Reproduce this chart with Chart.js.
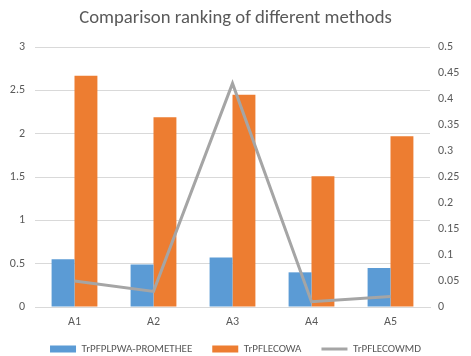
<!DOCTYPE html>
<html>
<head>
<meta charset="utf-8">
<script src="https://cdn.jsdelivr.net/npm/chart.js@4/dist/chart.umd.min.js"></script>
<style>
  html, body { margin: 0; padding: 0; background: #fff; }
  #wrap { width: 471px; height: 356px; }
</style>
</head>
<body>
<div id="wrap"><canvas id="chart"></canvas></div>
<script>
// ===== DATA =====
const categories = ["A1", "A2", "A3", "A4", "A5"];
const prometheeValues = [0.55, 0.49, 0.57, 0.40, 0.45];   // TrPFPLPWA-PROMETHEE (left axis)
const lecowaValues    = [2.67, 2.19, 2.45, 1.51, 1.97];   // TrPFLECOWA (left axis)
const lecowmdValues   = [0.05, 0.03, 0.43, 0.01, 0.02];   // TrPFLECOWMD (right axis)

const FONT = "Carlito, Lato, 'Open Sans', sans-serif";
const TEXT_GRAY = "#595959";
const GRID_GRAY = "#d9d9d9";

const fmt = v => Number(v.toFixed(2)).toString();

// legend needs wide horizontal gaps but sits close under the x labels,
// so nudge it up a bit after layout
const legendNudge = {
  id: "legendNudge",
  afterLayout(chart) {
    const lg = chart.legend;
    if (!lg) return;
    lg.top -= 7.5;
    lg.bottom -= 7.5;
  }
};

const ctx = document.getElementById("chart").getContext("2d");

new Chart(ctx, {
  type: "bar",
  data: {
    labels: categories,
    datasets: [
      {
        label: "TrPFPLPWA-PROMETHEE",
        data: prometheeValues,
        backgroundColor: "#5B9BD5",
        yAxisID: "y",
        order: 2,
        pointStyle: "rect"
      },
      {
        label: "TrPFLECOWA",
        data: lecowaValues,
        backgroundColor: "#ED7D31",
        yAxisID: "y",
        order: 2,
        pointStyle: "rect"
      },
      {
        type: "line",
        label: "TrPFLECOWMD",
        data: lecowmdValues,
        borderColor: "#A5A5A5",
        backgroundColor: "#A5A5A5",
        borderWidth: 3,
        pointRadius: 0,
        tension: 0,
        yAxisID: "y1",
        order: 1,
        pointStyle: "line"
      }
    ]
  },
  plugins: [legendNudge],
  options: {
    responsive: true,
    maintainAspectRatio: false,
    animation: false,
    // negative bottom padding pulls the legend row down near the edge
    layout: { padding: { left: 0, right: 0, top: 0, bottom: -16 } },
    datasets: {
      bar: { barPercentage: 1, categoryPercentage: 0.58 }
    },
    plugins: {
      title: {
        display: true,
        text: "Comparison ranking of different methods",
        color: TEXT_GRAY,
        font: { size: 18.7, family: FONT, weight: "normal" },
        padding: { top: 7, bottom: 17.6 }
      },
      legend: {
        position: "bottom",
        labels: {
          color: TEXT_GRAY,
          font: { size: 11, family: FONT },
          usePointStyle: true,
          pointStyleWidth: 26,
          boxHeight: 7,
          padding: 20,
          sort: (a, b) => a.datasetIndex - b.datasetIndex
        }
      },
      tooltip: { enabled: false }
    },
    scales: {
      x: {
        grid: { display: false, drawTicks: false },
        border: { color: GRID_GRAY },
        ticks: { color: TEXT_GRAY, font: { size: 12, family: FONT }, padding: 8 },
        afterFit: s => { s.height = 24; }
      },
      y: {
        position: "left",
        min: 0,
        max: 3,
        grid: { color: GRID_GRAY, drawTicks: false },
        border: { display: false },
        ticks: {
          stepSize: 0.5,
          color: TEXT_GRAY,
          font: { size: 12, family: FONT },
          padding: 10,
          callback: fmt
        },
        afterFit: s => { s.width = 35; }
      },
      y1: {
        position: "right",
        min: 0,
        max: 0.5,
        grid: { drawOnChartArea: false, drawTicks: false },
        border: { display: false },
        ticks: {
          stepSize: 0.05,
          color: TEXT_GRAY,
          font: { size: 12, family: FONT },
          padding: 8,
          callback: fmt
        },
        afterFit: s => { s.width = 41; }
      }
    }
  }
});
</script>
</body>
</html>
